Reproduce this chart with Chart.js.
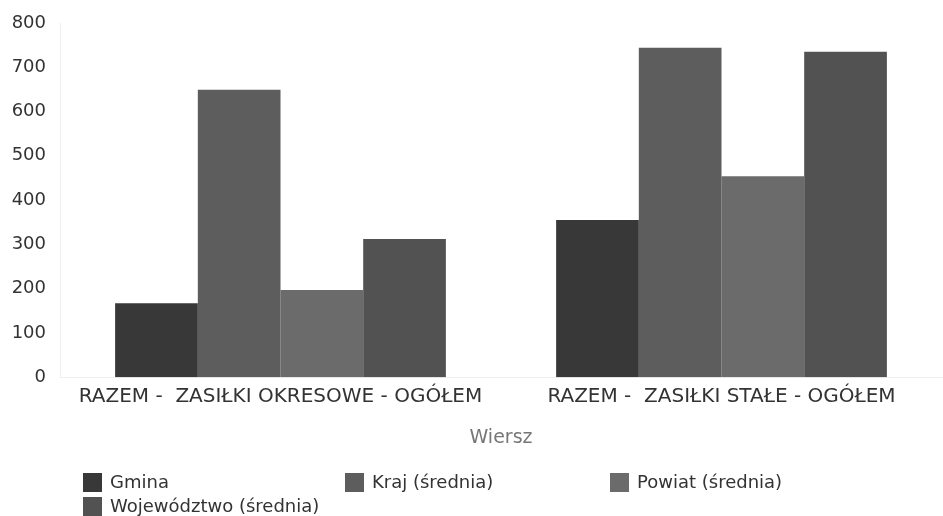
<!DOCTYPE html>
<html lang="pl">
  <head>
    <meta charset="UTF-8" />
    <title>Zasiłki</title>
    <style>
      html,
      body {
        margin: 0;
        padding: 0;
        background: #fff;
      }

      .container {
        position: relative;
        width: 943px;
        height: 516px;
      }

      .legend {
        position: absolute;
        left: 83px;
        top: 471px;
        width: 820px;
        display: grid;
        grid-template-columns: 262px 265px 265px;
        row-gap: 2px;
        font-family: "DejaVu Sans", sans-serif;
        font-size: 18px;
        color: #333;
      }

      .legend span {
        display: flex;
        align-items: center;
        line-height: 22px;
      }

      .legend i {
        display: inline-block;
        width: 19px;
        height: 19px;
        margin-right: 8px;
      }
    </style>
  </head>
  <body>
    <div class="container">
      <canvas id="chart" width="943" height="516"></canvas>
      <div class="legend" id="legend"></div>
    </div>

    <script src="https://cdn.jsdelivr.net/npm/chart.js@4.4.0/dist/chart.umd.min.js"></script>
    <script>
      const CATEGORIES = ["RAZEM -  ZASIŁKI OKRESOWE - OGÓŁEM", "RAZEM -  ZASIŁKI STAŁE - OGÓŁEM"];
      const SERIES = ["Gmina", "Kraj (średnia)", "Powiat (średnia)", "Województwo (średnia)"];
      const GMINA = [167, 355];
      const KRAJ = [649, 744];
      const POWIAT = [197, 454];
      const WOJEWODZTWO = [312, 735];
      const COLORS = ["#383838", "#5d5d5d", "#6b6b6b", "#525252"];

      const values = [GMINA, KRAJ, POWIAT, WOJEWODZTWO];
      const FONT = "'DejaVu Sans', sans-serif";

      const legend = document.getElementById("legend");
      SERIES.forEach((name, i) => {
        const item = document.createElement("span");
        item.innerHTML = `<i style="background:${COLORS[i]}"></i>${name}`;
        legend.appendChild(item);
      });

      new Chart(document.getElementById("chart"), {
        type: "bar",
        data: {
          labels: CATEGORIES,
          datasets: SERIES.map((name, i) => ({
            label: name,
            data: values[i],
            backgroundColor: COLORS[i],
            borderWidth: 0,
            categoryPercentage: 0.75,
            barPercentage: 1.0,
          })),
        },
        options: {
          responsive: false,
          animation: false,
          layout: { padding: { top: 23, right: 1, bottom: 63, left: 0 } },
          plugins: {
            legend: { display: false },
            tooltip: { enabled: false },
          },
          scales: {
            x: {
              grid: { display: false },
              border: { color: "#eeeeee" },
              ticks: { color: "#333", font: { family: FONT, size: 20 }, padding: 0, maxRotation: 0 },
              title: {
                display: true,
                text: "Wiersz",
                color: "#777",
                font: { family: FONT, size: 19 },
                padding: { top: 17 },
              },
            },
            y: {
              min: 0,
              max: 800,
              grid: { display: false },
              border: { color: "#eeeeee" },
              ticks: { stepSize: 100, color: "#333", font: { family: FONT, size: 18 }, padding: 6 },
              afterFit: (scale) => {
                scale.width = 60;
              },
            },
          },
        },
      });
    </script>
  </body>
</html>
